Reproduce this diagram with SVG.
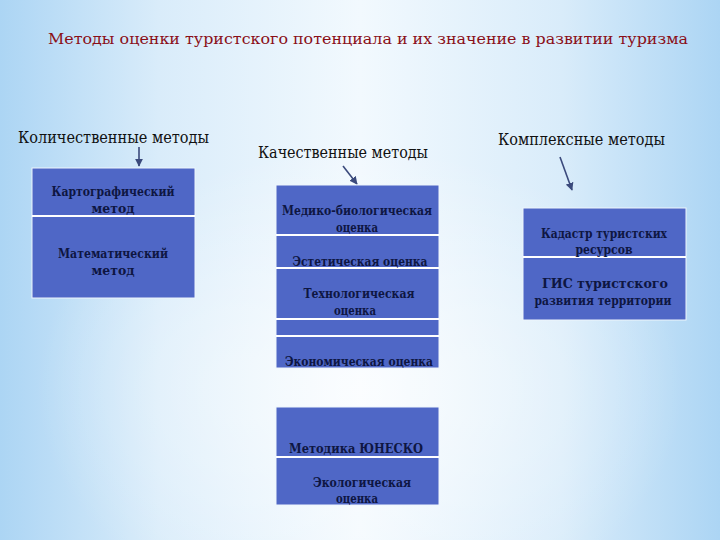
<svg xmlns="http://www.w3.org/2000/svg" width="720" height="540" viewBox="0 0 720 540">
  <defs>
    <linearGradient id="bg" x1="0" y1="0" x2="1" y2="0">
      <stop offset="0" stop-color="#acd5f4"/>
      <stop offset="0.22" stop-color="#d9ecfa"/>
      <stop offset="0.5" stop-color="#f2f9fe"/>
      <stop offset="0.78" stop-color="#d9ecfa"/>
      <stop offset="1" stop-color="#acd5f4"/>
    </linearGradient>
    <radialGradient id="glow" cx="0.5" cy="0.72" r="0.45">
      <stop offset="0" stop-color="#ffffff" stop-opacity="0.7"/>
      <stop offset="1" stop-color="#ffffff" stop-opacity="0"/>
    </radialGradient>
    <marker id="ah" viewBox="0 0 10 10" refX="9" refY="5" markerWidth="5" markerHeight="5" orient="auto">
      <path d="M0,0 L10,5 L0,10 z" fill="#3b4a7c"/>
    </marker>
    <style>
      text { font-family: 'DejaVu Serif', 'Liberation Serif', serif; }
      .title { font-size: 15.5px; fill: #8a0f18; }
      .head { font-size: 16px; fill: #111111; }
      .box { fill: #4f67c6; stroke: #eef5fc; stroke-width: 1; }
      .sep { stroke: #ffffff; stroke-width: 2; }
      .lbl { font-size: 13px; font-weight: bold; fill: #0e1642; text-anchor: middle; }
      .conn { stroke: #3b4a7c; stroke-width: 1.6; fill: none; marker-end: url(#ah); }
    </style>
  </defs>

  <rect x="0" y="0" width="720" height="540" fill="url(#bg)"/>
  <rect x="0" y="0" width="720" height="540" fill="url(#glow)"/>

  <text class="title" x="48" y="44" textLength="640" lengthAdjust="spacingAndGlyphs">Методы оценки туристского потенциала и их значение в развитии туризма</text>

  <g id="head-quant"><text class="head" x="18" y="143" textLength="191" lengthAdjust="spacingAndGlyphs">Количественные методы</text></g>
  <g id="head-qual"><text class="head" x="258" y="158" textLength="170" lengthAdjust="spacingAndGlyphs">Качественные методы</text></g>
  <g id="head-complex"><text class="head" x="498" y="145" textLength="167" lengthAdjust="spacingAndGlyphs">Комплексные методы</text></g>

  <g id="connectors">
    <line class="conn" x1="139" y1="147" x2="139" y2="166"/>
    <line class="conn" x1="343" y1="166" x2="357" y2="184"/>
    <line class="conn" x1="560" y1="157" x2="572" y2="190"/>
  </g>

  <g id="box-quant">
    <rect class="box" x="32" y="168" width="163" height="130"/>
    <line class="sep" x1="32" y1="216" x2="195" y2="216"/>
  </g>
  <g id="n-karto">
    <text class="lbl" x="113" y="196" textLength="123" lengthAdjust="spacingAndGlyphs">Картографический</text>
    <text class="lbl" x="113" y="213" textLength="43" lengthAdjust="spacingAndGlyphs">метод</text>
  </g>
  <g id="n-matem">
    <text class="lbl" x="113" y="258" textLength="110" lengthAdjust="spacingAndGlyphs">Математический</text>
    <text class="lbl" x="113" y="275" textLength="43" lengthAdjust="spacingAndGlyphs">метод</text>
  </g>

  <g id="box-qual-1">
    <rect class="box" x="276" y="185" width="163" height="183"/>
    <line class="sep" x1="276" y1="235" x2="439" y2="235"/>
    <line class="sep" x1="276" y1="268" x2="439" y2="268"/>
    <line class="sep" x1="276" y1="319" x2="439" y2="319"/>
    <line class="sep" x1="276" y1="336" x2="439" y2="336"/>
  </g>
  <g id="n-medbio">
    <text class="lbl" x="357" y="215" textLength="150" lengthAdjust="spacingAndGlyphs">Медико-биологическая</text>
    <text class="lbl" x="357" y="232" textLength="42" lengthAdjust="spacingAndGlyphs">оценка</text>
  </g>
  <g id="n-estet">
    <text class="lbl" x="360" y="266" textLength="135" lengthAdjust="spacingAndGlyphs">Эстетическая оценка</text>
  </g>
  <g id="n-tehno">
    <text class="lbl" x="359" y="298" textLength="111" lengthAdjust="spacingAndGlyphs">Технологическая</text>
    <text class="lbl" x="355" y="315" textLength="42" lengthAdjust="spacingAndGlyphs">оценка</text>
  </g>
  <g id="n-econ">
    <text class="lbl" x="359" y="366" textLength="148" lengthAdjust="spacingAndGlyphs">Экономическая оценка</text>
  </g>

  <g id="box-qual-2">
    <rect class="box" x="276" y="407" width="163" height="98"/>
    <line class="sep" x1="276" y1="457" x2="439" y2="457"/>
  </g>
  <g id="n-unesco">
    <text class="lbl" x="356" y="453" textLength="134" lengthAdjust="spacingAndGlyphs">Методика ЮНЕСКО</text>
  </g>
  <g id="n-ecol">
    <text class="lbl" x="362" y="487" textLength="98" lengthAdjust="spacingAndGlyphs">Экологическая</text>
    <text class="lbl" x="357" y="503" textLength="42" lengthAdjust="spacingAndGlyphs">оценка</text>
  </g>

  <g id="box-complex">
    <rect class="box" x="523" y="208" width="163" height="112"/>
    <line class="sep" x1="523" y1="257" x2="686" y2="257"/>
  </g>
  <g id="n-kadastr">
    <text class="lbl" x="604" y="238" textLength="126" lengthAdjust="spacingAndGlyphs">Кадастр туристских</text>
    <text class="lbl" x="604" y="254" textLength="57" lengthAdjust="spacingAndGlyphs">ресурсов</text>
  </g>
  <g id="n-gis">
    <text class="lbl" x="605" y="288" textLength="126" lengthAdjust="spacingAndGlyphs">ГИС туристского</text>
    <text class="lbl" x="603" y="305" textLength="137" lengthAdjust="spacingAndGlyphs">развития территории</text>
  </g>
</svg>
